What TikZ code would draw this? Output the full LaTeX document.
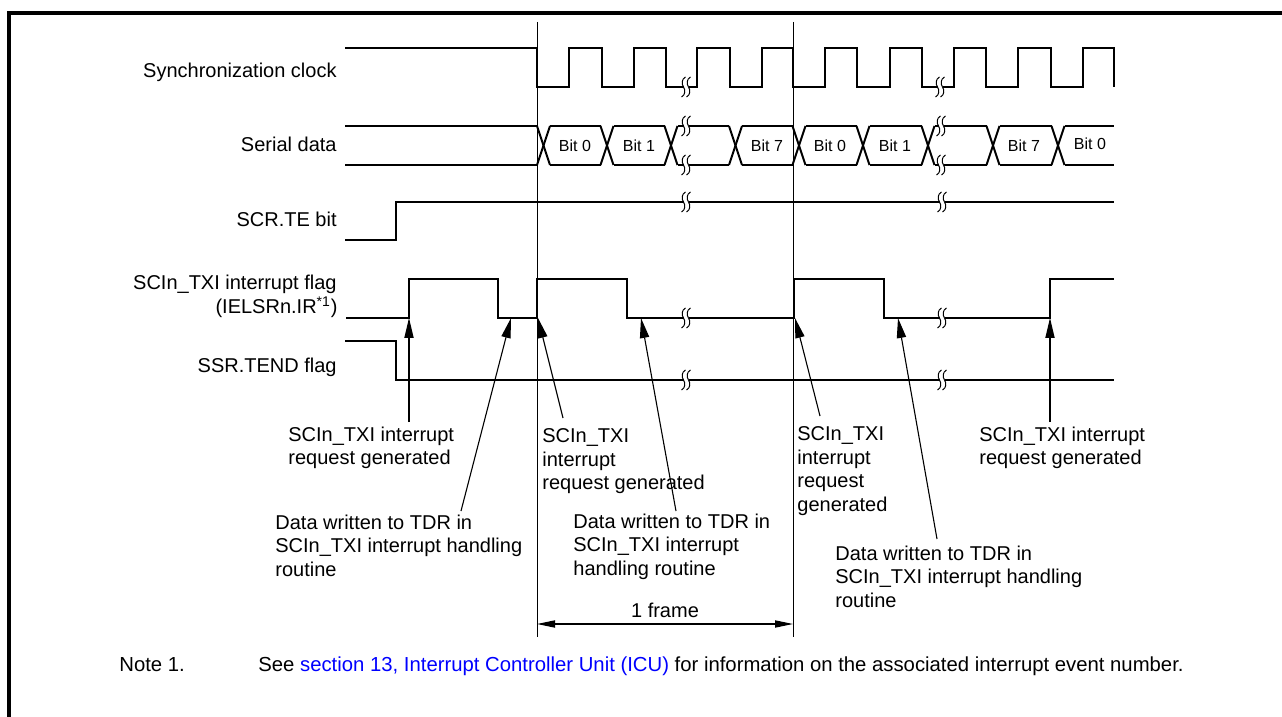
\documentclass[tikz,border=0pt]{standalone}
\usepackage{fontspec}
\setmainfont{Liberation Sans}
\usetikzlibrary{arrows.meta}
\definecolor{linkblue}{RGB}{0,0,255}
\tikzset{
  sig/.style={line width=1pt, line join=miter},
  frameline/.style={line width=0.5pt},
  annot/.style={line width=0.55pt, -{Triangle[length=10pt,width=4.6pt]}},
  dimline/.style={line width=0.55pt, {Triangle[length=9pt,width=3.6pt]}-{Triangle[length=9pt,width=3.6pt]}},
  lbl/.style={inner sep=0pt, font=\fontsize{10}{11.7}\selectfont},
  notelbl/.style={inner sep=0pt, font=\fontsize{10.15}{11.7}\selectfont},
  ml/.style={lbl, align=left, anchor=north west},
  bitlbl/.style={inner sep=0pt, font=\fontsize{8}{9.6}\selectfont, anchor=base},
  brk/.pic={
    \fill[white] (-2.5,-2.4) rectangle (2.5,2.4);
    \foreach \d in {-2.5,2.5}{
      \draw[line width=0.5pt, shift={(\d,0)}] (2,-10) .. controls (-2,-8) and (-2,-3) .. (0,0) .. controls (2,3) and (2,8) .. (-2,10);
    }
  }
}
\begin{document}
\begin{tikzpicture}[x=0.5pt,y=-0.5pt]
\useasboundingbox (0,0) rectangle (1282,717);
% border
\draw[line width=2pt] (9,717) -- (9,13) -- (1282,13);

% frame marker lines
\coordinate (v1t) at (537,22); \coordinate (v1b) at (537,637);
\coordinate (v2t) at (793,22); \coordinate (v2b) at (793,637);
\draw[frameline] (v1t) -- (v1b);
\draw[frameline] (v2t) -- (v2b);

% signal names
\node[lbl, anchor=base east] (nclk) at (337,78) {Synchronization clock};
\node[lbl, anchor=base east] (nsd) at (337,152) {Serial data};
\node[lbl, anchor=base east] (nte) at (337,227) {SCR.TE bit};
\node[lbl, anchor=base east] (ntxi) at (337,290) {SCIn\_TXI interrupt flag};
\node[lbl, anchor=base east] (nir) at (338,314) {(IELSRn.IR\textsuperscript{*1})};
\node[lbl, anchor=base east] (ntend) at (337,372) {SSR.TEND flag};

% synchronization clock
\draw[sig] (345,48) -- (537,48) -- (537,87) -- (569,87) -- (569,48) -- (602,48) -- (602,87)
  -- (634,87) -- (634,48) -- (666,48) -- (666,87) -- (697,87) -- (697,48) -- (730,48) -- (730,87)
  -- (762,87) -- (762,48) -- (793,48) -- (793,87) -- (825,87) -- (825,48) -- (857,48) -- (857,87)
  -- (890,87) -- (890,48) -- (922,48) -- (922,87) -- (954,87) -- (954,48) -- (986,48) -- (986,87)
  -- (1018,87) -- (1018,48) -- (1051,48) -- (1051,87) -- (1083,87) -- (1083,48) -- (1114,48) -- (1114,87);
\pic at (686,87) {brk};
\pic at (940,87) {brk};

% serial data
\draw[sig] (345,126) -- (537,126);
\draw[sig] (345,165) -- (537,165);
\foreach \c in {543.5,607,671,735.5,799,863,928,993,1058}{
  \draw[sig] (\c-6.5,126) -- (\c+6.5,165);
  \draw[sig] (\c-6.5,165) -- (\c+6.5,126);
}
\foreach \a/\b in {543.5/607,607/671,671/735.5,735.5/799,799/863,863/928,928/993,993/1058}{
  \draw[sig] (\a+6.5,126) -- (\b-6.5,126);
  \draw[sig] (\a+6.5,165) -- (\b-6.5,165);
}
\draw[sig] (1064.5,126) -- (1114,126);
\draw[sig] (1064.5,165) -- (1114,165);
\pic at (686,126) {brk};
\pic at (686,165) {brk};
\pic at (941,126) {brk};
\pic at (941,165) {brk};
\node[bitlbl] (b0a) at (575,152) {Bit 0};
\node[bitlbl] (b1a) at (639,152) {Bit 1};
\node[bitlbl] (b7a) at (767,152) {Bit 7};
\node[bitlbl] (b0b) at (830,152) {Bit 0};
\node[bitlbl] (b1b) at (895,152) {Bit 1};
\node[bitlbl] (b7b) at (1024,152) {Bit 7};
\node[bitlbl] (b0c) at (1090,150) {Bit 0};

% SCR.TE bit
\draw[sig] (345,240) -- (396,240) -- (396,202) -- (1114,202);
\pic at (686,202) {brk};
\pic at (942,202) {brk};

% SCIn_TXI interrupt flag
\draw[sig] (346,318) -- (409,318) -- (409,279) -- (498,279) -- (498,318) -- (537,318) -- (537,279)
  -- (627,279) -- (627,318) -- (794,318) -- (794,279) -- (884,279) -- (884,318) -- (1050,318)
  -- (1050,279) -- (1114,279);
\pic at (686,318) {brk};
\pic at (942,318) {brk};

% SSR.TEND flag
\draw[sig] (345,341) -- (396,341) -- (396,380) -- (1114,380);
\pic at (686,380) {brk};
\pic at (942,380) {brk};

% annotation labels
\node[ml] (a1) at (288,426.5) {SCIn\_TXI interrupt\\request generated};
\node[ml] (a2) at (275,514.5) {Data written to TDR in\\SCIn\_TXI interrupt handling\\routine};
\node[ml] (a3) at (542,428.5) {SCIn\_TXI\\interrupt\\request generated};
\node[ml] (a4) at (573,513.5) {Data written to TDR in\\SCIn\_TXI interrupt\\handling routine};
\node[ml] (a5) at (797,426.5) {SCIn\_TXI\\interrupt\\request\\generated};
\node[ml] (a6) at (835,545.5) {Data written to TDR in\\SCIn\_TXI interrupt handling\\routine};
\node[ml] (a7) at (979,426.5) {SCIn\_TXI interrupt\\request generated};

% annotation arrows
\coordinate (s1) at (409,422); \coordinate (t1) at (409,318);
\coordinate (s2) at (461,511); \coordinate (t2) at (511,318);
\coordinate (s3) at (563,418); \coordinate (t3) at (538,318);
\coordinate (s4) at (676,511); \coordinate (t4) at (641,318);
\coordinate (s5) at (820,416); \coordinate (t5) at (795,318);
\coordinate (s6) at (937,539); \coordinate (t6) at (898,318);
\coordinate (s7) at (1050,422); \coordinate (t7) at (1050,318);
\foreach \i in {1,...,7}{ \draw[annot] (s\i) -- (t\i); }

% 1 frame
\coordinate (f1) at (537,624); \coordinate (f2) at (793,624);
\draw[dimline] (f1) -- (f2);
\node[lbl, anchor=base] (fr) at (665,617) {1 frame};

% note
\node[notelbl, anchor=base west] (note) at (119,671) {Note 1.};
\node[notelbl, anchor=base west] (notetext) at (258,671) {See \textcolor{linkblue}{section 13, Interrupt Controller Unit (ICU)} for information on the associated interrupt event number.};
\end{tikzpicture}
\end{document}
